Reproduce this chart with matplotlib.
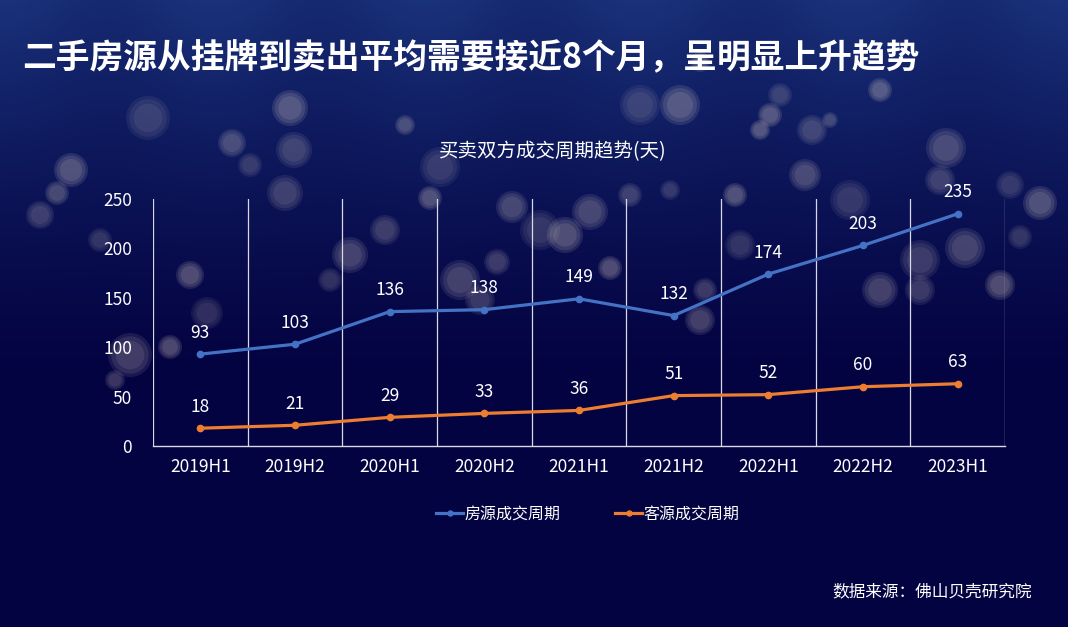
import numpy as np
import matplotlib
matplotlib.use("Agg")
import matplotlib.pyplot as plt
from matplotlib.patches import Circle

plt.rcParams['font.family'] = ['Noto Sans CJK SC', 'DejaVu Sans']

# data
periods = ['2019H1', '2019H2', '2020H1', '2020H2', '2021H1',
           '2021H2', '2022H1', '2022H2', '2023H1']
house_days = [93, 103, 136, 138, 149, 132, 174, 203, 235]
buyer_days = [18, 21, 29, 33, 36, 51, 52, 60, 63]
y_ticks = [0, 50, 100, 150, 200, 250]

title = '二手房源从挂牌到卖出平均需要接近8个月，呈明显上升趋势'
subtitle = '买卖双方成交周期趋势(天)'
source = '数据来源：佛山贝壳研究院'

W, H = 1068, 627
fig = plt.figure(figsize=(W / 100, H / 100), dpi=100)

# background: dark navy gradient, lighter blue at the top
bg = fig.add_axes([0, 0, 1, 1])
bg.set_xlim(0, W)
bg.set_ylim(H, 0)
bg.axis('off')
yy = np.linspace(0, 1, H)[:, None]
xx = np.linspace(0, 1, W)[None, :]
t = np.clip(1 - yy / 0.6, 0, 1) ** 1.3
top = np.array([24, 46, 118]) / 255
bottom = np.array([4, 3, 66]) / 255
streak = 1 + 0.10 * np.cos(xx * 2 * np.pi * 5) * t
img = bottom + (top - bottom) * (t * streak)[..., None]
bg.imshow(np.clip(img, 0, 1), extent=[0, W, H, 0], aspect='auto', zorder=0)

# soft bokeh decoration
bokeh = [(148, 118, 22), (290, 108, 18), (232, 143, 14), (294, 150, 18),
         (250, 165, 12), (71, 170, 17), (57, 193, 12), (285, 193, 18),
         (207, 313, 16), (170, 347, 12), (130, 355, 22), (115, 380, 10),
         (440, 167, 20), (430, 198, 12), (512, 207, 16), (497, 262, 13),
         (540, 230, 20), (565, 235, 18), (460, 280, 20), (480, 300, 15),
         (640, 105, 20), (680, 105, 20), (590, 212, 18), (630, 195, 12),
         (670, 190, 10), (610, 268, 12), (700, 320, 15), (705, 290, 12),
         (740, 245, 15), (770, 115, 12), (805, 175, 16), (812, 130, 15),
         (780, 95, 12), (760, 130, 10), (946, 148, 20), (940, 180, 15),
         (1010, 185, 14), (1040, 203, 17), (965, 248, 20), (920, 260, 20),
         (1020, 237, 12), (1000, 285, 15), (880, 290, 18), (920, 290, 15),
         (850, 200, 20), (735, 195, 12), (350, 255, 18), (385, 230, 15),
         (330, 280, 12), (880, 90, 12), (700, 62, 10), (40, 215, 14),
         (100, 240, 12), (190, 275, 14), (405, 125, 10), (830, 120, 8)]
for i, (cx, cy, r) in enumerate(bokeh):
    a = 0.07 + 0.05 * ((i * 7) % 4) / 3
    for k in (1.0, 0.85, 0.65):
        bg.add_patch(Circle((cx, cy), r * k, facecolor='#e8d8cc',
                            edgecolor='none', alpha=a, zorder=1))

# title texts
fig.text(22 / W, 1 - 58 / H, title, color='white', fontsize=24.3,
         fontweight='heavy', ha='left', va='center')
fig.text(553 / W, 1 - 152 / H, subtitle, color='white', fontsize=14,
         ha='center', va='center')
fig.text(1032 / W, 1 - 592 / H, source, color='white', fontsize=12,
         ha='right', va='center')

# chart
ax = fig.add_axes([153 / W, 1 - 446 / H, (1005 - 153) / W, (446 - 199) / H])
ax.patch.set_alpha(0)
x = np.arange(len(periods))
l1, = ax.plot(x, house_days, color='#4472C4', lw=2.3, marker='o', ms=4.5,
              label='房源成交周期')
l2, = ax.plot(x, buyer_days, color='#ED7D31', lw=2.3, marker='o', ms=4.5,
              label='客源成交周期')
for xi, v in zip(x, house_days):
    ax.annotate(str(v), (xi, v), xytext=(0, 9), textcoords='offset points',
                ha='center', va='bottom', color='white', fontsize=12.5)
for xi, v in zip(x, buyer_days):
    ax.annotate(str(v), (xi, v), xytext=(0, 9), textcoords='offset points',
                ha='center', va='bottom', color='white', fontsize=12.5)

ax.set_xlim(-0.5, len(periods) - 0.5)
ax.set_ylim(0, 250)
ax.set_yticks(y_ticks)
ax.set_xticks(x)
ax.set_xticklabels(periods)
for b in np.arange(-0.5, len(periods), 1.0):
    ax.axvline(b, color='#d9d9e6', lw=0.9, zorder=0)
for s in ['top', 'right', 'left']:
    ax.spines[s].set_visible(False)
ax.spines['bottom'].set_color('#d9d9e6')
ax.spines['bottom'].set_linewidth(1.0)
ax.tick_params(axis='both', length=0, colors='white', labelsize=12.5)
ax.tick_params(axis='y', pad=15)
ax.tick_params(axis='x', pad=9)

fig.legend(handles=[l1, l2], loc='center', bbox_to_anchor=(588 / W, 1 - 514 / H),
           ncol=2, frameon=False, fontsize=11.5, labelcolor='white',
           handlelength=1.7, handletextpad=0.1, columnspacing=3.4, markerscale=0.8)

fig.savefig('out.png', dpi=100)
